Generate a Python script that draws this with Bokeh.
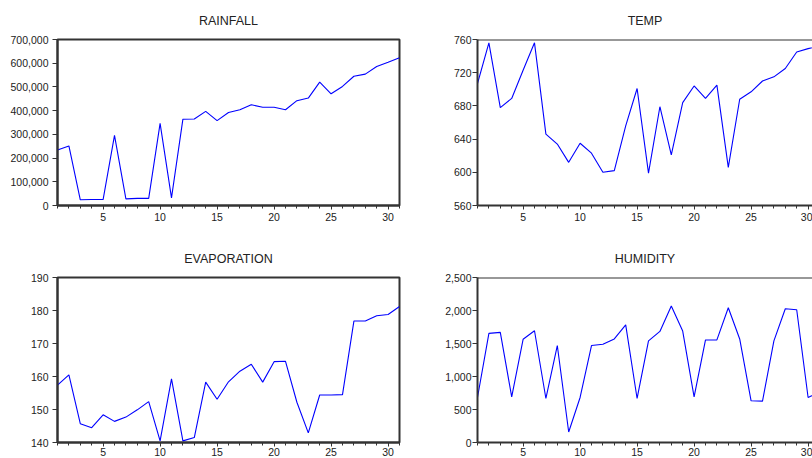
from bokeh.plotting import figure
from bokeh.layouts import column, row
from bokeh.models import Range1d, SingleIntervalTicker, NumeralTickFormatter, Span
from bokeh.embed import file_html
from bokeh.resources import INLINE

obs = list(range(1, 32))

rainfall = [234000, 251000, 24000, 25000, 25000, 296000, 28000, 30000, 30000, 346000,
            32000, 364000, 365000, 397000, 358000, 392000, 404000, 425000, 414000, 414000,
            404000, 442000, 453000, 520000, 471000, 502000, 545000, 554000, 586000, 604000,
            623000]
temp = [707, 756, 678, 689, 723, 756, 646, 634, 612, 635,
        623, 600, 602, 656, 701, 599, 679, 621, 684, 704,
        689, 705, 606, 688, 697, 710, 715, 725, 745, 749,
        752]
evaporation = [157.4, 160.5, 145.7, 144.5, 148.4, 146.4, 147.7, 149.9, 152.4, 140.5,
               159.3, 140.5, 141.5, 158.3, 153.1, 158.4, 161.6, 163.7, 158.3, 164.5,
               164.6, 152.2, 142.9, 154.4, 154.4, 154.5, 176.8, 176.8, 178.4, 178.8,
               181.2]
humidity = [682, 1653, 1668, 692, 1564, 1693, 667, 1469, 159, 682,
            1469, 1489, 1569, 1783, 667, 1539, 1683, 2067, 1688, 692,
            1554, 1554, 2042, 1569, 632, 627, 1539, 2027, 2012, 682,
            760]

titles = ["RAINFALL", "TEMP", "EVAPORATION", "HUMIDITY"]
y_ranges = [(0, 700000, 100000), (560, 760, 40), (140, 190, 10), (0, 2500, 500)]

FONT = "Liberation Sans"
AX = "#333333"
TXT = "#222222"


def panel(title, xs, ys, yr, left_side, top_row):
    ymin, ymax, step = yr
    if left_side:
        w, bl, br = 420, 57, 21
        x_end = 31
    else:
        w, bl, br = 392, 57, 0
        x_end = 1 + (812 - 477) / 11.4
    if top_row:
        h, bt, bb = 230, 38, 25
    else:
        h, bt, bb = 228, 47, 14
    p = figure(width=w, height=h, output_backend="svg", toolbar_location=None,
               x_range=Range1d(1, x_end), y_range=Range1d(ymin, ymax),
               min_border_left=bl, min_border_right=br,
               min_border_top=bt, min_border_bottom=bb,
               title=title)
    p.title.align = "center"
    p.title.text_font = FONT
    p.title.text_font_size = "12.5px"
    p.title.text_font_style = "normal"
    p.title.text_color = TXT
    p.title.standoff = 23
    p.background_fill_color = "white"
    p.border_fill_color = "white"
    p.xgrid.visible = False
    p.ygrid.visible = False
    if left_side:
        p.outline_line_color = AX
        p.outline_line_width = 2
    else:
        p.outline_line_color = None
        p.add_layout(Span(location=ymax, dimension="width", line_color=AX, line_width=2))

    p.line(xs, ys, line_color="#0000ff", line_width=1.1)

    xa = p.xaxis[0]
    xa.ticker = SingleIntervalTicker(interval=5, num_minor_ticks=5)
    xa.axis_line_color = AX
    xa.axis_line_width = 2
    xa.major_tick_line_color = AX
    xa.minor_tick_line_color = AX
    xa.major_tick_in = 0
    xa.major_tick_out = 4
    xa.minor_tick_in = 0
    xa.minor_tick_out = 3
    xa.major_label_text_font = FONT
    xa.major_label_text_font_size = "10.5px"
    xa.major_label_text_color = TXT
    xa.major_label_standoff = 3 if top_row else 1

    ya = p.yaxis[0]
    ya.ticker = SingleIntervalTicker(interval=step, num_minor_ticks=0)
    ya.formatter = NumeralTickFormatter(format="0,0")
    ya.axis_line_color = AX
    ya.axis_line_width = 2
    ya.major_tick_line_color = AX
    ya.major_tick_in = 0
    ya.major_tick_out = 5
    ya.minor_tick_line_color = None
    ya.major_label_text_font = FONT
    ya.major_label_text_font_size = "10.5px"
    ya.major_label_text_color = TXT
    ya.major_label_standoff = 4 if left_side else 1
    return p


p1 = panel(titles[0], obs, rainfall, y_ranges[0], True, True)
p2 = panel(titles[1], obs, temp, y_ranges[1], False, True)
p3 = panel(titles[2], obs, evaporation, y_ranges[2], True, False)
p4 = panel(titles[3], obs, humidity, y_ranges[3], False, False)

layout = column(row(p1, p2), row(p3, p4))

open("out.html", "w").write(file_html(layout, INLINE))
